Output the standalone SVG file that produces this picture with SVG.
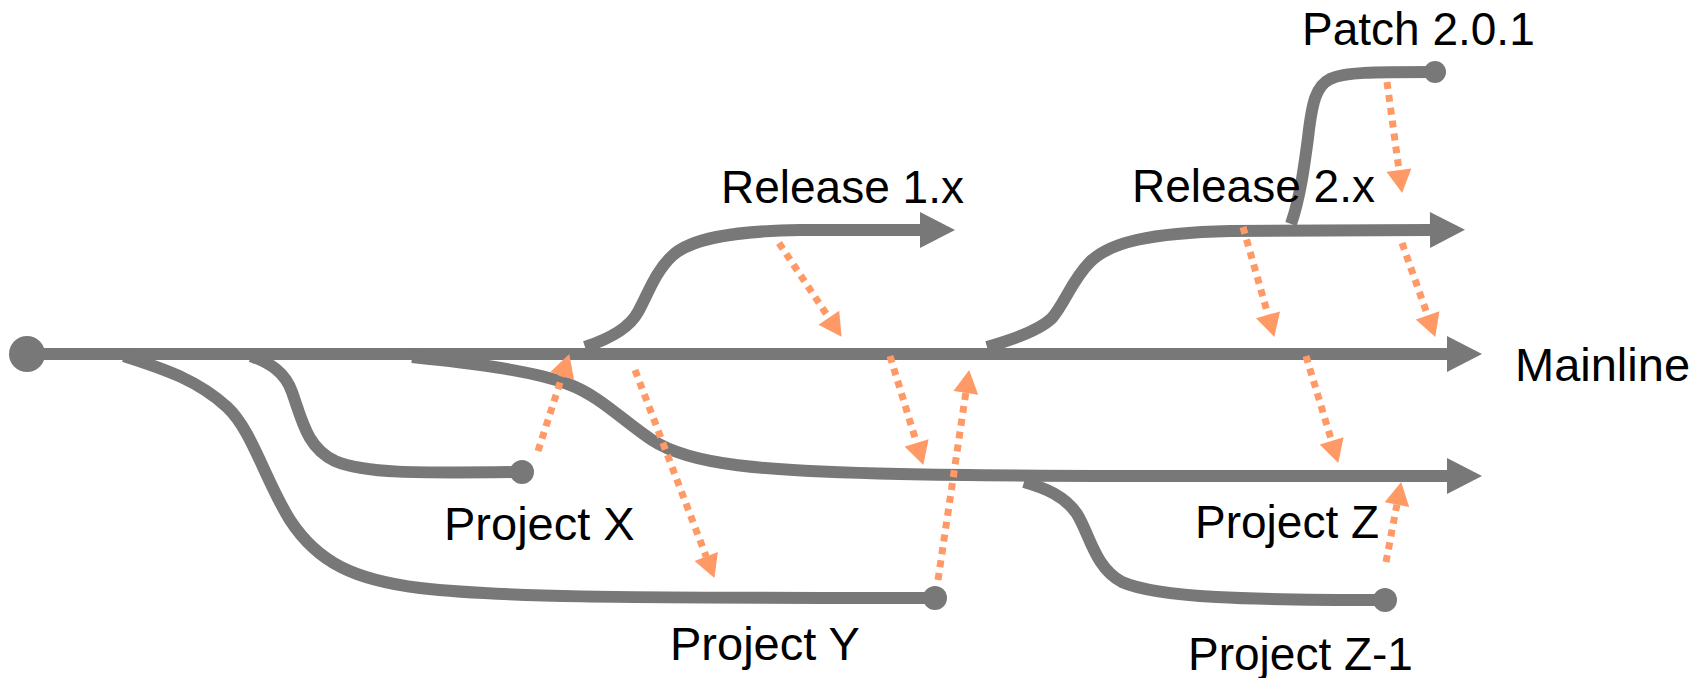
<svg xmlns="http://www.w3.org/2000/svg" width="1708" height="678" viewBox="0 0 1708 678">
  <style>
    .branch { fill: none; stroke: #787878; stroke-width: 12; stroke-linecap: butt; }
    .dot { fill: #787878; }
    .merge { fill: none; stroke: #FF9966; stroke-width: 7; stroke-dasharray: 7 6; marker-end: url(#orangeHead); }
    .label { font-family: "Liberation Sans", Arial, sans-serif; font-size: 46px; fill: #000; }
  </style>
  <defs>
    <marker id="grayHead" markerUnits="userSpaceOnUse" markerWidth="36" markerHeight="36" viewBox="0 0 35 36" refX="0" refY="18" orient="auto">
      <path d="M0,0 L35,18 L0,36 z" fill="#787878"/>
    </marker>
    <marker id="orangeHead" markerUnits="userSpaceOnUse" markerWidth="24" markerHeight="25" viewBox="0 0 23 25" refX="0" refY="12.5" orient="auto">
      <path d="M0,0 L23,12.5 L0,25 z" fill="#FF9966"/>
    </marker>
  </defs>

  <!-- branch lines -->
  <g id="connectors">
    <g id="branches">
      <path id="mainline-line" class="branch" d="M27,354 L1447,354" marker-end="url(#grayHead)"/>
      <path id="release1-line" class="branch" d="M585,347 C612,338 630,327 638,312 C648,294 655,272 672,256 C690,239 730,231 800,230 L920,230" marker-end="url(#grayHead)"/>
      <path id="release2-line" class="branch" d="M987,347 C1015,339 1040,330 1052,318 C1065,303 1072,280 1090,262 C1110,242 1150,233 1230,231 L1430,230" marker-end="url(#grayHead)"/>
      <path id="patch-line" class="branch" d="M1291,224 C1300,198 1304,168 1308,138 C1312,102 1316,86 1330,79 C1345,72 1372,72 1435,72"/>
      <path id="projectx-line" class="branch" d="M251,356 C270,363 285,372 292,392 C302,420 307,448 335,461 C365,474 420,473 522,472"/>
      <path id="projecty-line" class="branch" d="M124,356 C160,368 195,378 227,407 C252,430 265,480 290,520 C318,563 355,580 420,588 C500,597 600,598 935,598"/>
      <path id="projectz-line" class="branch" d="M412,357 C470,363 530,370 568,384 C600,396 622,420 652,440 C690,465 760,471 900,474 C1050,477 1250,476 1447,476" marker-end="url(#grayHead)"/>
      <path id="projectz1-line" class="branch" d="M1024,482 C1045,488 1065,496 1077,514 C1090,535 1095,568 1122,582 C1158,598 1250,600 1385,600"/>
    </g>
    <g id="merges">
      <path class="merge" d="M538,451 L562.2,375.9"/>
      <path class="merge" d="M779,243 L828.8,317.7"/>
      <path class="merge" d="M635,370 L706.2,556.5"/>
      <path class="merge" d="M890,356 L916.6,443"/>
      <path class="merge" d="M938,580 L965.8,392.8"/>
      <path class="merge" d="M1243,227 L1268,314.8"/>
      <path class="merge" d="M1402,243 L1427.6,315.3"/>
      <path class="merge" d="M1387,82 L1399,170.2"/>
      <path class="merge" d="M1306,356 L1331.6,440.9"/>
      <path class="merge" d="M1386,562 L1396.9,504.6"/>
    </g>
  </g>

  <!-- branch origin and end points -->
  <g id="origin"><circle class="dot" cx="27" cy="354" r="18"/></g>
  <g id="patch-tip"><circle class="dot" cx="1435" cy="72" r="11"/></g>
  <g id="projectx-tip"><circle class="dot" cx="522" cy="472" r="12"/></g>
  <g id="projecty-tip"><circle class="dot" cx="935" cy="598" r="12"/></g>
  <g id="projectz1-tip"><circle class="dot" cx="1385" cy="600" r="12"/></g>

  <!-- labels -->
  <g id="label-patch"><text class="label" x="1302" y="45">Patch 2.0.1</text></g>
  <g id="label-release1"><text class="label" x="721" y="203">Release 1.x</text></g>
  <g id="label-release2"><text class="label" x="1132" y="202">Release 2.x</text></g>
  <g id="label-mainline"><text class="label" x="1515" y="381" style="font-size:47px">Mainline</text></g>
  <g id="label-projectx"><text class="label" x="444" y="540" style="font-size:47px">Project X</text></g>
  <g id="label-projecty"><text class="label" x="670" y="660" style="font-size:47px">Project Y</text></g>
  <g id="label-projectz"><text class="label" x="1195" y="538">Project Z</text></g>
  <g id="label-projectz1"><text class="label" x="1188" y="670">Project Z-1</text></g>
</svg>
